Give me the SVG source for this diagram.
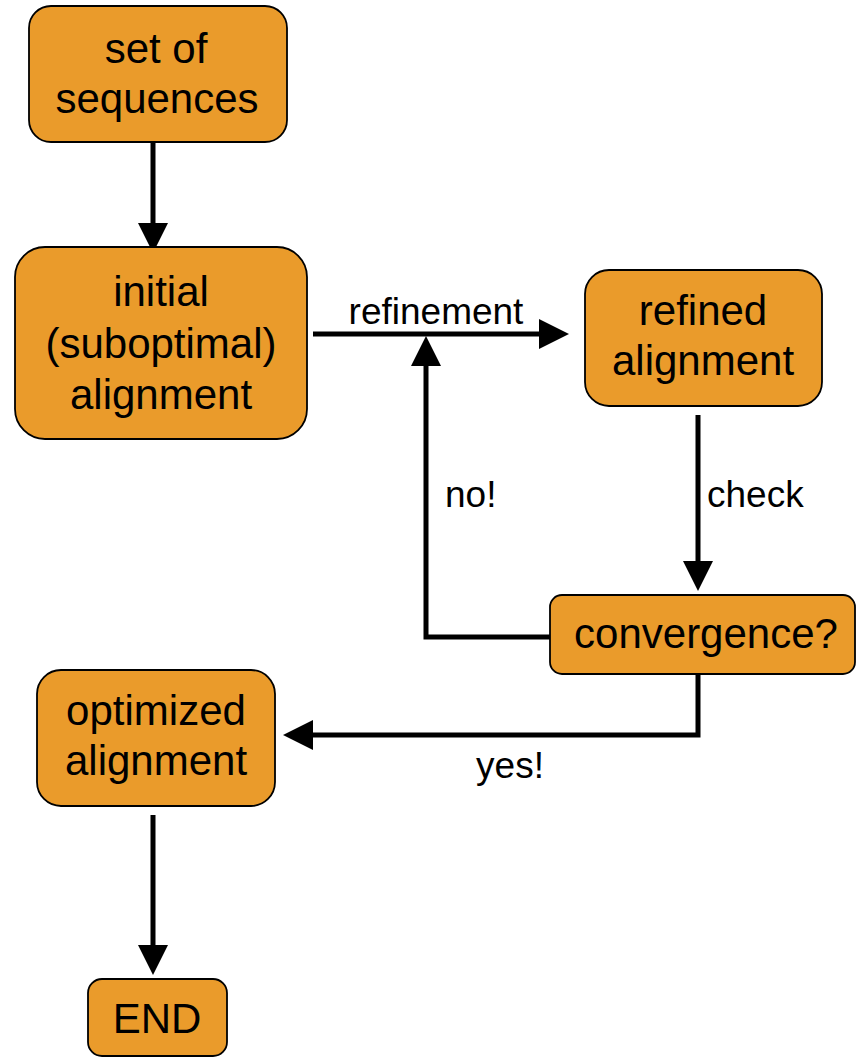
<svg xmlns="http://www.w3.org/2000/svg" width="856" height="1058" viewBox="0 0 856 1058">
<style>
.node rect{fill:#EA9B2B;stroke:#000;stroke-width:1.8}
.node text{font-family:"Liberation Sans",Arial,sans-serif;font-size:42px;fill:#000;text-anchor:middle}
.lbl{font-family:"Liberation Sans",Arial,sans-serif;font-size:37px;fill:#000}
.conn{fill:none;stroke:#000;stroke-width:5}
</style>
<defs>
<marker id="ah" markerUnits="userSpaceOnUse" markerWidth="30" markerHeight="30" viewBox="0 0 30 30" refX="2" refY="15" orient="auto">
<path d="M0,0 L30,15 L0,30 z" fill="#000"/>
</marker>
</defs>
<rect width="856" height="1058" fill="#fff"/>
<g id="connectors">
<path class="conn" d="M153,142 L153,225" marker-end="url(#ah)"/>
<path class="conn" d="M313,334 L541,334" marker-end="url(#ah)"/>
<path class="conn" d="M698,415 L698,563" marker-end="url(#ah)"/>
<path class="conn" d="M550,637 L426,637 L426,364" marker-end="url(#ah)"/>
<path class="conn" d="M698,674 L698,735 L311,735" marker-end="url(#ah)"/>
<path class="conn" d="M153,815 L153,947" marker-end="url(#ah)"/>
<text class="lbl" x="436" y="324" text-anchor="middle">refinement</text>
<text class="lbl" x="707" y="507">check</text>
<text class="lbl" x="445" y="507">no!</text>
<text class="lbl" x="510" y="778" text-anchor="middle">yes!</text>
</g>
<g id="n-set" class="node">
<rect x="29" y="6" width="258" height="136" rx="22"/>
<text x="156" y="63">set of</text>
<text x="157" y="113">sequences</text>
</g>
<g id="n-initial" class="node">
<rect x="15" y="247" width="292" height="192" rx="30"/>
<text x="161" y="306">initial</text>
<text x="161" y="358">(suboptimal)</text>
<text x="161" y="409">alignment</text>
</g>
<g id="n-refined" class="node">
<rect x="585" y="270" width="237" height="136" rx="24"/>
<text x="703" y="325">refined</text>
<text x="703" y="375">alignment</text>
</g>
<g id="n-conv" class="node">
<rect x="550" y="595" width="305" height="79" rx="12"/>
<text x="706" y="648">convergence?</text>
</g>
<g id="n-opt" class="node">
<rect x="37" y="670" width="238" height="136" rx="24"/>
<text x="156" y="725">optimized</text>
<text x="156" y="775">alignment</text>
</g>
<g id="n-end" class="node">
<rect x="88" y="979" width="139" height="77" rx="14"/>
<text x="157" y="1033">END</text>
</g>
</svg>
